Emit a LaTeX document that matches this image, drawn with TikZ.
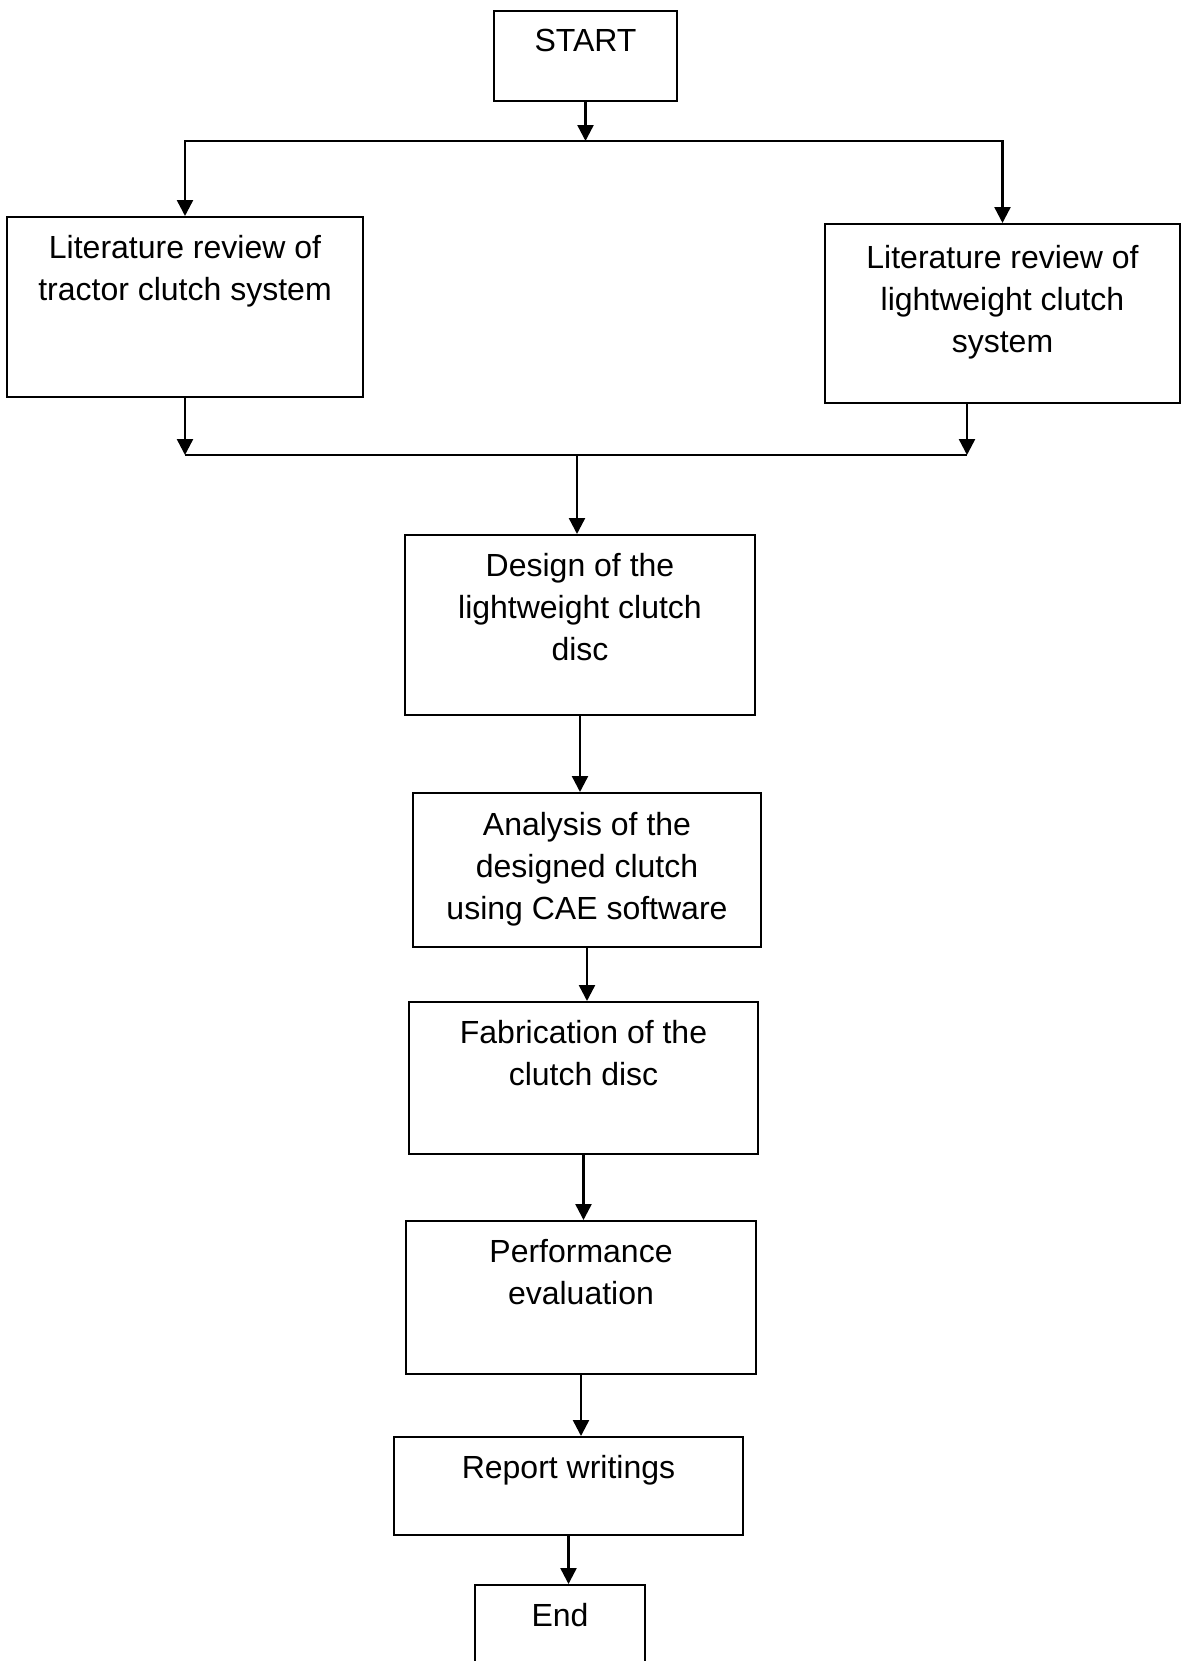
\documentclass[tikz,border=0pt]{standalone}
\usepackage{fontspec}
\setmainfont{Liberation Sans}
\usetikzlibrary{positioning,arrows.meta}
\begin{document}
\begin{tikzpicture}[x=.5pt,y=-.5pt,
  box/.style={draw,line width=1.2pt,anchor=north,inner sep=0pt},
  txt/.style={align=center,inner sep=0pt,font=\fontsize{16}{21}\selectfont},
  arr/.style={line width=1.2pt,-{Triangle[length=8pt,width=8pt]}}]
\useasboundingbox (0,0) rectangle (1186,1661);
\clip (0,0) rectangle (1186,1661);
% boxes
\node[box,minimum width=91.5pt,minimum height=45pt] (start) at (585.5,10) {};
\node[box,minimum width=178pt,minimum height=90pt] (lit1) at (185,216) {};
\node[box,minimum width=177.5pt,minimum height=89.5pt] (lit2) at (1002.5,223) {};
\node[box,minimum width=175pt,minimum height=90pt] (design) at (580,534) {};
\node[box,minimum width=174pt,minimum height=77pt] (analysis) at (587,792) {};
\node[box,minimum width=174.5pt,minimum height=76pt] (fab) at (583.5,1001) {};
\node[box,minimum width=175pt,minimum height=76.5pt] (perf) at (581,1220) {};
\node[box,minimum width=174.5pt,minimum height=49pt] (report) at (568.5,1436) {};
\node[box,minimum width=85pt,minimum height=60pt] (end) at (560,1584) {};
% texts
\node[txt,below=9.5pt of start.north] (startt) {START};
\node[txt,below=9.5pt of lit1.north] (lit1t) {Literature review of\\tractor clutch system};
\node[txt,below=11pt of lit2.north] (lit2t) {Literature review of\\lightweight clutch\\system};
\node[txt,below=9.5pt of design.north] (designt) {Design of the\\lightweight clutch\\disc};
\node[txt,below=10pt of analysis.north] (analysist) {Analysis of the\\designed clutch\\using CAE software};
\node[txt,below=9.5pt of fab.north] (fabt) {Fabrication of the\\clutch disc};
\node[txt,below=9.5pt of perf.north] (perft) {Performance\\evaluation};
\node[txt,below=9.5pt of report.north] (reportt) {Report writings};
\node[txt,below=9.5pt of end.north] (endt) {End};
% split and join
\coordinate (split) at (585.5,141);
\coordinate (join) at (577,455);
\coordinate (joinl) at (185,455);
\coordinate (joinr) at (967,455);
\draw[arr] (start) -- (split);
\draw[arr] (split) -| (lit1.north);
\draw[arr] (split) -| (lit2.north);
\draw[arr] (lit1.south) -- (joinl);
\draw[arr] (lit2.south -| joinr) -- (joinr);
\draw[line width=1.2pt] (joinl) -- (joinr);
\draw[arr] (join) -- (join |- design.north);
% chain
\draw[arr] (design.south) -- (design.south |- analysis.north);
\draw[arr] (analysis.south) -- (analysis.south |- fab.north);
\draw[arr] (fab.south) -- (fab.south |- perf.north);
\draw[arr] (perf.south) -- (perf.south |- report.north);
\draw[arr] (report.south) -- (report.south |- end.north);
\end{tikzpicture}
\end{document}
